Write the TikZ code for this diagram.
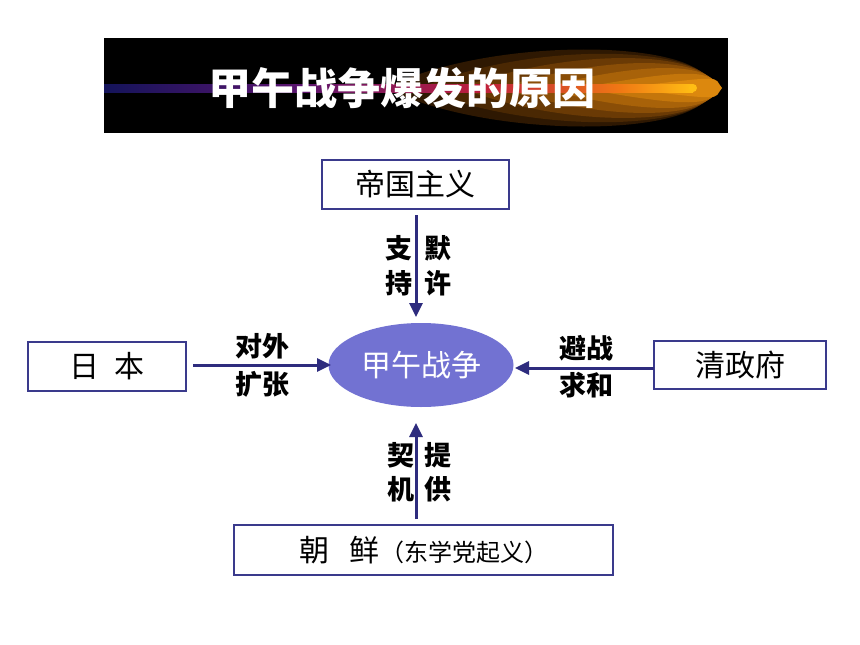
\documentclass[tikz,border=0pt]{standalone}
\usepackage{fontspec}
\newfontfamily\cjk{Noto Sans CJK SC}
\usetikzlibrary{arrows.meta,shapes.geometric}
\definecolor{navy}{HTML}{2E2C7E}
\definecolor{boxline}{HTML}{3A3A8C}
\definecolor{ellfill}{HTML}{7272D2}
\tikzset{
  cbox/.style={draw=boxline, line width=1.5pt, fill=white, inner sep=0pt},
  conn/.style={draw=navy, line width=3pt, -{Triangle[length=14pt,width=13pt]}},
  lab/.style={font=\cjk\bfseries\fontsize{27}{27}\selectfont, inner sep=0pt},
  big/.style={font=\cjk\fontsize{30}{30}\selectfont}
}
\begin{document}
\begin{tikzpicture}[x=1pt,y=-1pt]
\useasboundingbox (0,0) rectangle (860,645);
\fill[white] (0,0) rectangle (860,645);
% title bar
\fill[black] (104,38) rectangle (728,133);
\begin{scope}
\clip (104,38) rectangle (728,133);
\foreach \x/\r/\c in {385/54/2E1802, 420/48/4A2803, 460/42/6A3A05, 500/35/8A4E07, 540/28/A86209, 580/20/C4760B, 620/13/DC880E}{
  \definecolor{glowc}{HTML}{\c}
  \fill[glowc] (\x,88) .. controls (\x+110,88-\r) and (712,88-\r*0.9) .. (722-0.3*\r+4,88)
     .. controls (712,88+\r*0.9) and (\x+110,88+\r) .. (\x,88) -- cycle;
}
\shade[left color={rgb,255:red,20;green,20;blue,90}, right color={rgb,255:red,90;green,20;blue,110}] (104,84) rectangle (300,92);
\shade[left color={rgb,255:red,90;green,20;blue,110}, right color={rgb,255:red,190;green,30;blue,60}] (300,84) rectangle (480,92);
\shade[left color={rgb,255:red,190;green,30;blue,60}, right color={rgb,255:red,240;green,120;blue,20}] (480,84) rectangle (620,92);
\shade[left color={rgb,255:red,240;green,120;blue,20}, right color={rgb,255:red,255;green,190;blue,20}] (620,84) rectangle (693,92);
\fill[color={rgb,255:red,255;green,190;blue,20}] (693,88) circle[radius=4];
\end{scope}
\node[font=\cjk\bfseries\fontsize{43}{43}\selectfont, text=white, inner sep=0pt] (title) at (402,88) {甲午战争爆发的原因};
% nodes
\node[cbox, minimum width=187pt, minimum height=49pt, big] (imp) at (415.5,184.5) {帝国主义};
\node[draw=none, fill=ellfill, ellipse, minimum width=185pt, minimum height=84pt, inner sep=0pt, big, text=white] (war) at (421,365) {甲午战争};
\node[cbox, minimum width=158pt, minimum height=49pt, big] (jp) at (107,366.5) {日\hspace{0.5em}本};
\node[cbox, minimum width=172pt, minimum height=48pt, big] (qing) at (740,365) {清政府};
\node[cbox, minimum width=379pt, minimum height=50pt] (kor) at (423.5,550) {\cjk\fontsize{30}{30}\selectfont 朝\hspace{0.7em}鲜\fontsize{24}{24}\selectfont（东学党起义）};
% connectors
\coordinate (t1) at (416,215);
\coordinate (t2) at (416,317);
\draw[conn] (t1) -- (t2);
\coordinate (l1) at (193,365);
\coordinate (l2) at (331,365);
\draw[conn] (l1) -- (l2);
\coordinate (r1) at (654,368);
\coordinate (r2) at (515,368);
\draw[conn] (r1) -- (r2);
\coordinate (b1) at (416,519);
\coordinate (b2) at (416,423);
\draw[conn] (b1) -- (b2);
% labels
\node[lab] (a1) at (399,248) {支};
\node[lab] (a2) at (399,283) {持};
\node[lab] (a3) at (438,248) {默};
\node[lab] (a4) at (438,283) {许};
\node[lab] (c1) at (262,346) {对外};
\node[lab] (c2) at (262,384) {扩张};
\node[lab] (d1) at (586,348) {避战};
\node[lab] (d2) at (586,385) {求和};
\node[lab] (e1) at (401,455) {契};
\node[lab] (e2) at (401,489) {机};
\node[lab] (e3) at (438,455) {提};
\node[lab] (e4) at (438,489) {供};
\end{tikzpicture}
\end{document}
